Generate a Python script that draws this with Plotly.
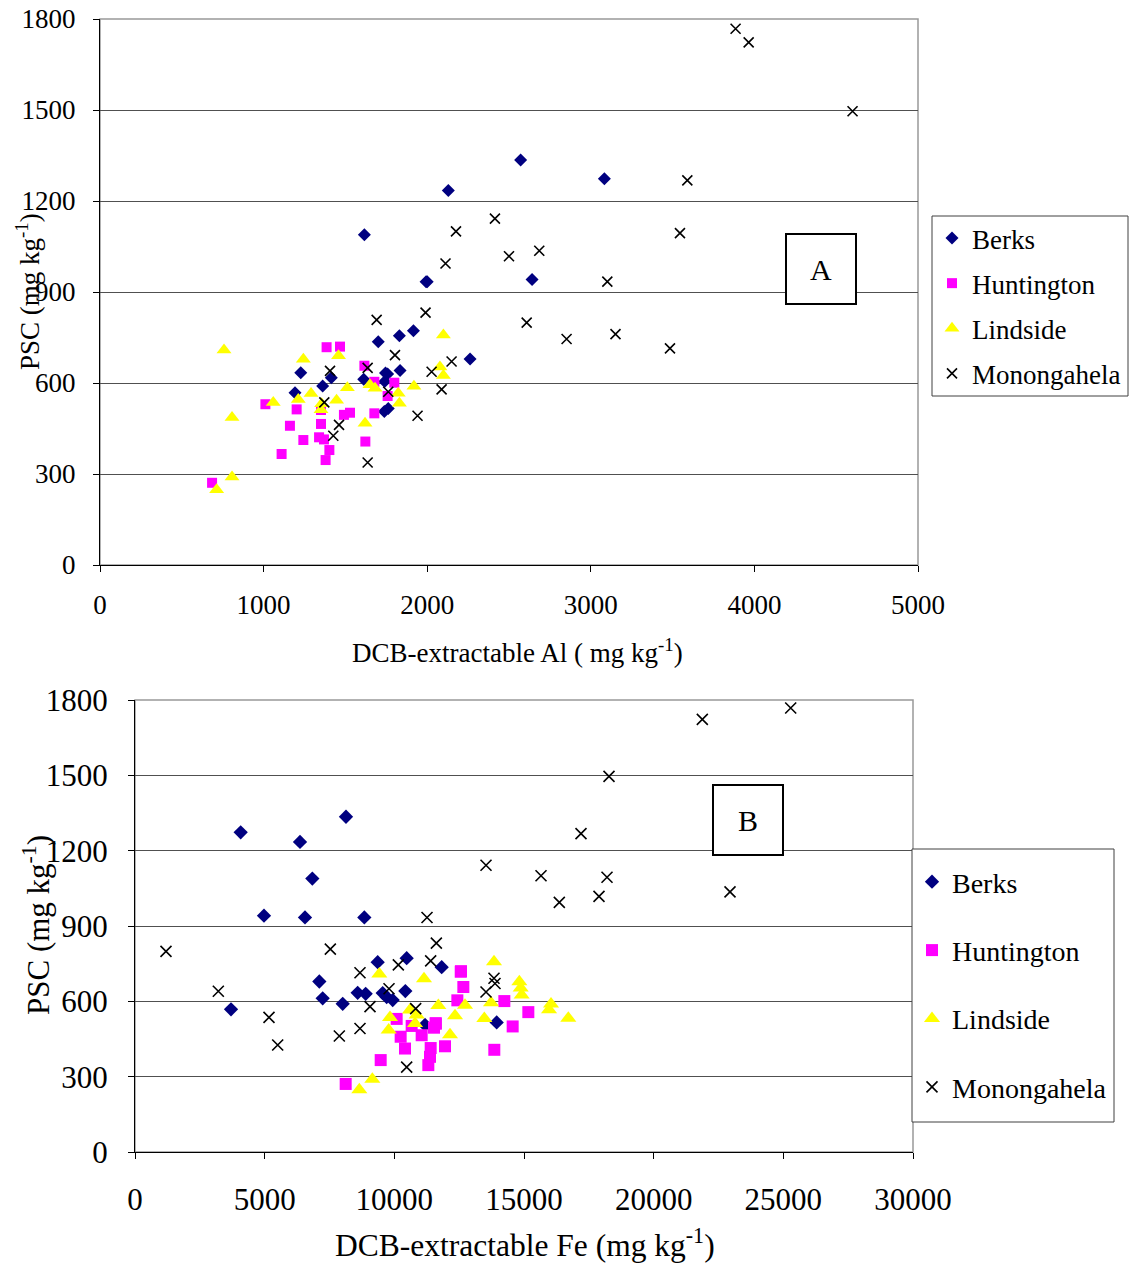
import plotly.graph_objects as go

# ---- sample data: PSC (mg/kg) with DCB-extractable Al and Fe (mg/kg) ----
berks_psc = [1335, 1273, 1235, 1089, 941, 934, 934, 772, 756, 736, 679, 641,
             634, 633, 630, 617, 612, 605, 590, 568, 516, 506]
berks_al = [2571, 3083, 2129, 1616, 2641, 1993, 2000, 1916, 1830, 1701, 2262, 1834,
            1227, 1745, 1758, 1414, 1612, 1740, 1361, 1192, 1762, 1738]
berks_fe = [8136, 4075, 6363, 6838, 4974, 6555, 8843, 10476, 9358, 11826, 7108, 10424,
            8586, 9551, 8895, 9705, 7237, 9937, 8009, 3702, 13946, 11183]

hunt_psc = [720, 718, 657, 604, 601, 557, 530, 513, 511, 502, 500, 495,
            465, 459, 421, 414, 412, 407, 379, 366, 346, 271]
hunt_al = [1467, 1385, 1616, 1677, 1799, 1758, 1011, 1202, 1351, 1528, 1677, 1491,
           1351, 1161, 1339, 1369, 1243, 1622, 1402, 1110, 1379, 685]
hunt_fe = [12571, 12560, 12661, 12430, 14242, 15167, 10090, 11594, 11600, 10668, 14563, 11530,
           11054, 10244, 11954, 11401, 10411, 13855, 11375, 9474, 11311, 8124]

lind_psc = [758, 709, 690, 678, 653, 625, 594, 589, 584, 583, 566, 565, 546, 543,
            536, 533, 532, 512, 486, 467, 290, 248]
lind_al = [2099, 758, 1458, 1243, 2078, 2099, 1650, 1919, 1512, 1681, 1823, 1290, 1212, 1446,
           1059, 1830, 1355, 1351, 807, 1620, 807, 713]
lind_fe = [13843, 9421, 11144, 14820, 14872, 14910, 13728, 16042, 12725, 11697, 15965, 10604,
           10861, 12340, 9833, 16709, 13470, 10797, 9782, 12147, 9152, 8650]

mono_psc = [1768, 1723, 1496, 1268, 1142, 1100, 1094, 1036, 1018, 994, 934, 832, 808, 799,
            761, 745, 714, 692, 671, 650, 640, 637, 579, 571, 536, 492, 462, 426, 338]
mono_al = [3885, 3965, 4600, 3590, 2414, 2176, 3545, 2685, 2500, 2112, 3101, 1990, 1691, 2608,
           3151, 2852, 3484, 1803, 2149, 1636, 1406, 2027, 2088, 1762, 1371, 1941, 1461, 1426, 1636]
mono_fe = [25284, 21876, 18278, 17198, 13535, 15656, 18201, 22944, 17892, 16362, 11260, 11620,
           7532, 1195, 11401, 10154, 8676, 13843, 13882, 9795, 3213, 13535, 9062, 10823,
           5167, 8676, 7879, 5502, 10476]

series_names = ["Berks", "Huntington", "Lindside", "Monongahela"]
series_psc = [berks_psc, hunt_psc, lind_psc, mono_psc]
series_al = [berks_al, hunt_al, lind_al, mono_al]
series_fe = [berks_fe, hunt_fe, lind_fe, mono_fe]

y_ticks = [0, 300, 600, 900, 1200, 1500, 1800]
al_ticks = [0, 1000, 2000, 3000, 4000, 5000]
fe_ticks = [0, 5000, 10000, 15000, 20000, 25000, 30000]

FONT = "Liberation Serif"
W, H = 1129, 1263

styles = {
    "Berks": dict(symbol="diamond", color="#000080"),
    "Huntington": dict(symbol="square", color="#FF00FF"),
    "Lindside": dict(symbol="triangle-up", color="#FFFF00"),
    "Monongahela": dict(symbol="x-thin-open", color="#000000"),
}
sizes_a = {"Berks": 10, "Huntington": 10, "Lindside": 13, "Monongahela": 10}
sizes_b = {"Berks": 11, "Huntington": 12, "Lindside": 14, "Monongahela": 11}

fig = go.Figure()


def marker(name, size):
    st = styles[name]
    m = dict(symbol=st["symbol"], size=size, color=st["color"])
    if name == "Monongahela":
        m["line"] = dict(color="#000000", width=1.6)
    else:
        m["line"] = dict(width=0)
    return m


for name, psc, al in zip(series_names, series_psc, series_al):
    fig.add_trace(go.Scatter(
        x=al, y=psc, mode="markers", name=name, marker=marker(name, sizes_a[name]),
        xaxis="x", yaxis="y", legend="legend", legendgroup="a-" + name,
    ))
for name, psc, fe in zip(series_names, series_psc, series_fe):
    fig.add_trace(go.Scatter(
        x=fe, y=psc, mode="markers", name=name, marker=marker(name, sizes_b[name]),
        xaxis="x2", yaxis="y2", legend="legend2", legendgroup="b-" + name,
    ))


# pixel -> paper helpers for layout placement
def px(xp):
    return xp / W


def py(yp):
    return 1 - yp / H


axis_common = dict(
    showline=True, linecolor="black", linewidth=1, ticks="outside", ticklen=6,
    tickcolor="black", zeroline=False, mirror=False, automargin=False,
    tickformat="d",
)

fig.update_layout(
    width=W, height=H,
    margin=dict(l=0, r=0, t=0, b=0, autoexpand=False),
    paper_bgcolor="white", plot_bgcolor="white",
    font=dict(family=FONT, color="black"),
    xaxis=dict(domain=[px(100), px(918)], range=[0, 5000], tickvals=al_ticks,
               showgrid=False, anchor="y", tickfont=dict(size=27),
               ticklabelstandoff=10, **axis_common),
    yaxis=dict(domain=[py(565), py(19)], range=[0, 1800], tickvals=y_ticks,
               showgrid=True, gridcolor="#505050", gridwidth=1, anchor="x",
               tickfont=dict(size=27), ticklabelstandoff=12, **axis_common),
    xaxis2=dict(domain=[px(135), px(913)], range=[0, 30000], tickvals=fe_ticks,
                showgrid=False, anchor="y2", tickfont=dict(size=31),
                ticklabelstandoff=14, **axis_common),
    yaxis2=dict(domain=[py(1152), py(700)], range=[0, 1800], tickvals=y_ticks,
                showgrid=True, gridcolor="#505050", gridwidth=1, anchor="x2",
                tickfont=dict(size=31), ticklabelstandoff=14, **axis_common),
    legend=dict(x=px(932), y=py(214), xanchor="left", yanchor="top",
                borderwidth=0, bgcolor="rgba(0,0,0,0)",
                font=dict(family=FONT, size=27), traceorder="grouped",
                tracegroupgap=7, itemwidth=30),
    legend2=dict(x=px(912), y=py(857), xanchor="left", yanchor="top",
                 borderwidth=0, bgcolor="rgba(0,0,0,0)",
                 font=dict(family=FONT, size=28), traceorder="grouped",
                 tracegroupgap=29, itemwidth=30),
    showlegend=True,
)

# grey frame on the top and right edges of both plot areas
for xr, yr in (("x domain", "y domain"), ("x2 domain", "y2 domain")):
    fig.add_shape(type="rect", xref=xr, yref=yr, x0=0, x1=1, y0=0, y1=1,
                  line=dict(color="#999999", width=1.5), layer="below")

# legend frames
for x0, x1, y0, y1 in ((932, 1128, 216, 396), (912, 1114, 849, 1122)):
    fig.add_shape(type="rect", xref="paper", yref="paper",
                  x0=px(x0), x1=px(x1), y0=py(y1), y1=py(y0),
                  line=dict(color="#404040", width=1), fillcolor="white", layer="above")

annotations = [
    dict(text="DCB-extractable Al ( mg kg<sup>-1</sup>)", x=px(517), y=py(651),
         font=dict(size=27)),
    dict(text="PSC (mg kg<sup>-1</sup>)", x=px(28), y=py(292), textangle=-90,
         font=dict(size=27)),
    dict(text="DCB-extractable Fe (mg kg<sup>-1</sup>)", x=px(525), y=py(1243),
         font=dict(size=31.5)),
    dict(text="PSC (mg kg<sup>-1</sup>)", x=px(36), y=py(925), textangle=-90,
         font=dict(size=31)),
]
for a in annotations:
    fig.add_annotation(xref="paper", yref="paper", showarrow=False,
                       xanchor="center", yanchor="middle", **a)

# panel labels in boxed frames
for label, cx, cy in (("A", 821, 269), ("B", 748, 820)):
    fig.add_annotation(text=label, xref="paper", yref="paper", x=px(cx), y=py(cy),
                       showarrow=False, width=68, height=68, bgcolor="white",
                       bordercolor="black", borderwidth=2, borderpad=0,
                       font=dict(size=30, family=FONT), xanchor="center", yanchor="middle")

fig.write_html("out.html")
